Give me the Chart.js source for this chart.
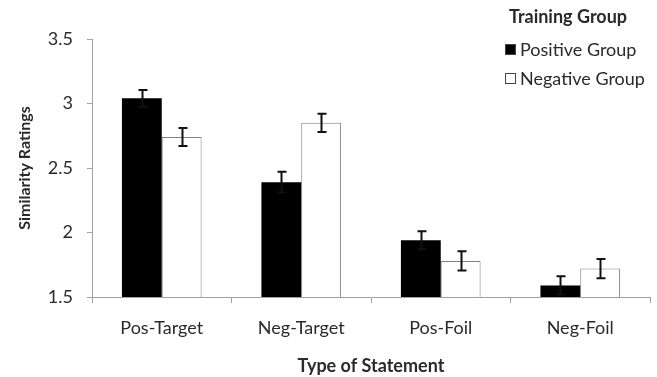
<!DOCTYPE html>
<html>
<head>
<meta charset="utf-8">
<script src="https://cdn.jsdelivr.net/npm/chart.js@4"></script>
<style>
  html, body { margin: 0; padding: 0; background: #fff; }
  #wrap { width: 657px; height: 377px; position: relative; }
</style>
</head>
<body>
<div id="wrap"><canvas id="c"></canvas></div>
<script>
const categories = ["Pos-Target", "Neg-Target", "Pos-Foil", "Neg-Foil"];
const positiveMeans = [3.04, 2.39, 1.94, 1.59];
const positiveErr = [0.065, 0.08, 0.07, 0.07];
const negativeMeans = [2.74, 2.85, 1.78, 1.72];
const negativeErr = [0.07, 0.07, 0.075, 0.075];
const yTicks = [1.5, 2, 2.5, 3, 3.5];

const font = "Lato, 'Open Sans', sans-serif";
const axisColor = "#a0a0a0";
const textColor = "#2a2a2a";

// error bars drawn through the chart's own scales
const errorBars = {
  id: "errorBars",
  afterDatasetsDraw(chart) {
    const { ctx } = chart;
    const y = chart.scales.y;
    ctx.save();
    ctx.strokeStyle = "#111";
    ctx.lineWidth = 2;
    chart.data.datasets.forEach((ds, i) => {
      const meta = chart.getDatasetMeta(i);
      meta.data.forEach((bar, j) => {
        const v = ds.data[j];
        const e = ds.err[j];
        const top = y.getPixelForValue(v + e);
        const bot = y.getPixelForValue(v - e);
        const x = Math.round(bar.x) + 0.5;
        ctx.beginPath();
        ctx.moveTo(x, top);
        ctx.lineTo(x, bot);
        ctx.moveTo(x - 4, top);
        ctx.lineTo(x + 5, top);
        ctx.moveTo(x - 4, bot);
        ctx.lineTo(x + 5, bot);
        ctx.stroke();
      });
    });
    ctx.restore();
  },
};

// legend with title, top right
const groupLegend = {
  id: "groupLegend",
  afterDraw(chart) {
    const { ctx } = chart;
    ctx.save();
    ctx.fillStyle = textColor;
    ctx.textBaseline = "middle";
    ctx.textAlign = "center";
    ctx.font = "bold 18px " + font;
    ctx.fillText("Training Group", 568, 17);
    ctx.textAlign = "left";
    ctx.font = "18px " + font;
    const rows = [49, 78];
    chart.data.datasets.forEach((ds, i) => {
      const cy = rows[i];
      ctx.fillStyle = ds.backgroundColor;
      ctx.fillRect(505, cy - 5, 11, 11);
      ctx.strokeStyle = "#444";
      ctx.lineWidth = 1;
      ctx.strokeRect(505.5, cy - 4.5, 10, 10);
      ctx.fillStyle = textColor;
      ctx.fillText(ds.label, 520, cy + 1);
    });
    ctx.restore();
  },
};

new Chart(document.getElementById("c"), {
  type: "bar",
  data: {
    labels: categories,
    datasets: [
      {
        label: "Positive Group",
        data: positiveMeans,
        err: positiveErr,
        backgroundColor: "#000000",
        borderColor: "#000000",
        borderWidth: 0,
      },
      {
        label: "Negative Group",
        data: negativeMeans,
        err: negativeErr,
        backgroundColor: "#ffffff",
        borderColor: "#808080",
        borderWidth: 1,
        borderSkipped: "bottom",
      },
    ],
  },
  plugins: [errorBars, groupLegend],
  options: {
    responsive: true,
    maintainAspectRatio: false,
    animation: false,
    categoryPercentage: 0.571,
    barPercentage: 1,
    layout: { padding: { top: 39, right: 7, left: 0, bottom: 0 } },
    plugins: {
      legend: { display: false },
      tooltip: { enabled: false },
    },
    scales: {
      x: {
        grid: { offset: true, drawOnChartArea: false, drawTicks: true, tickLength: 6, color: axisColor },
        border: { color: axisColor, width: 1 },
        ticks: { color: textColor, font: { family: font, size: 18 }, padding: 14 },
        title: {
          display: true,
          text: "Type of Statement",
          color: textColor,
          font: { family: font, size: 18, weight: "bold" },
          padding: { top: 16, bottom: 0 },
        },
        afterFit: (s) => { s.height = 80; },
      },
      y: {
        min: 1.5,
        max: 3.5,
        afterBuildTicks: (s) => { s.ticks = yTicks.map((v) => ({ value: v })); },
        grid: { drawOnChartArea: false, drawTicks: true, tickLength: 5, color: axisColor },
        border: { color: axisColor, width: 1 },
        ticks: {
          color: textColor,
          font: { family: font, size: 18 },
          padding: 14,
          callback: (v) => String(v),
        },
        title: {
          display: true,
          text: "Similarity Ratings",
          color: textColor,
          font: { family: font, size: 16, weight: "bold" },
          padding: { top: 15, bottom: 0 },
        },
        afterFit: (s) => { s.width = 92; },
      },
    },
  },
});
</script>
</body>
</html>
